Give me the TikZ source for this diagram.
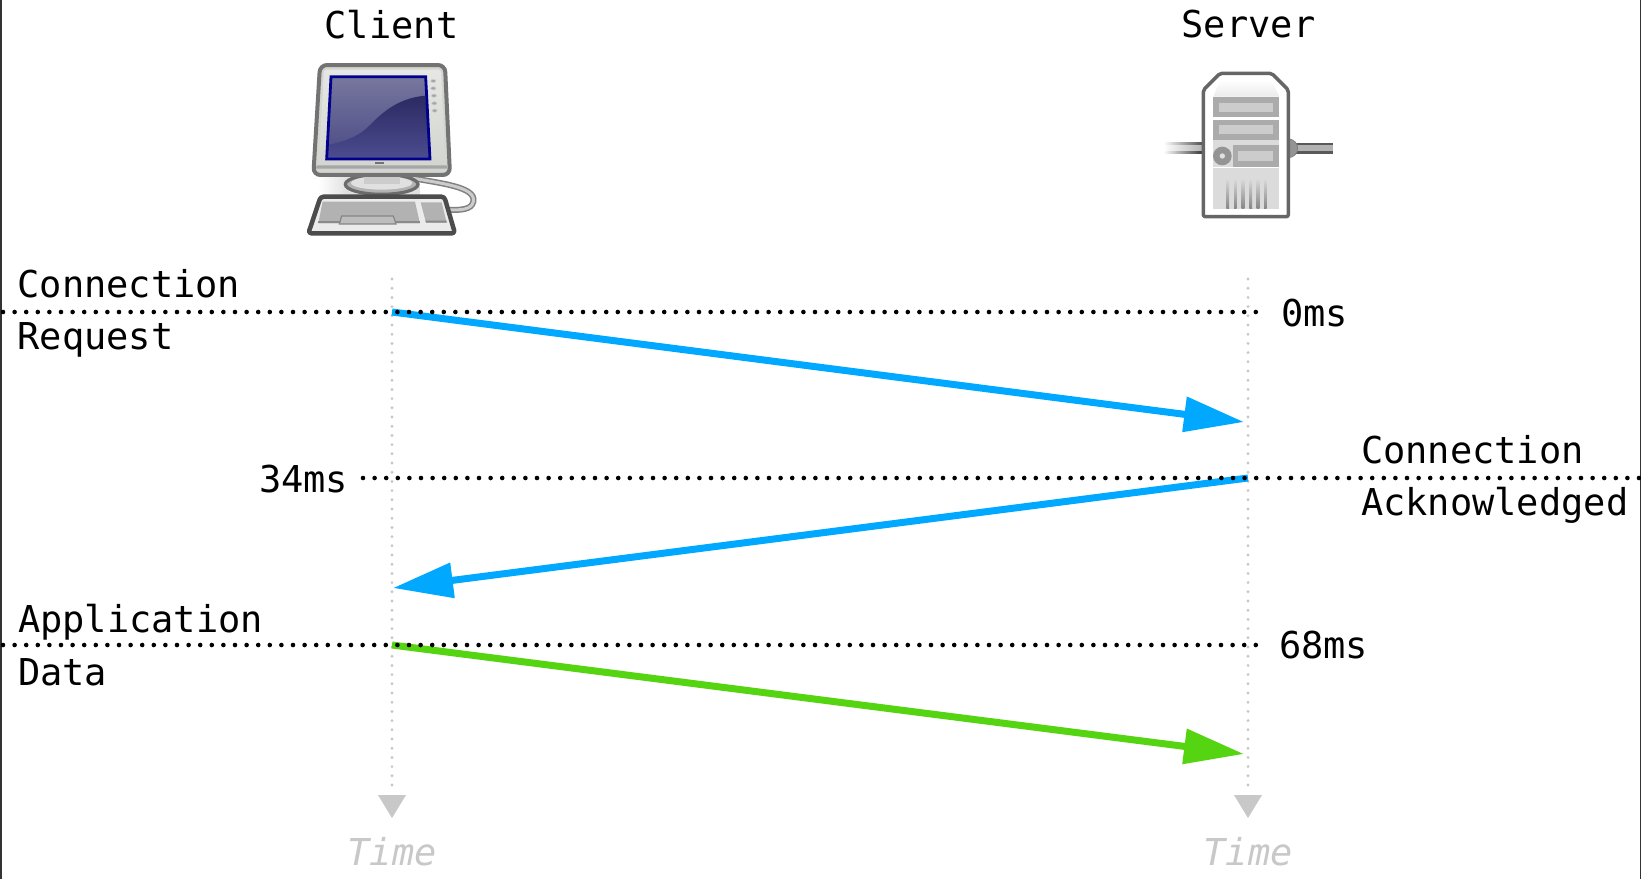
\documentclass[tikz,border=0pt]{standalone}
\usepackage{fontspec}
\setmonofont{DejaVu Sans Mono}
\usetikzlibrary{arrows.meta}
\definecolor{flowblue}{HTML}{00A8FF}
\definecolor{flowgreen}{HTML}{55D411}
\definecolor{timegrey}{HTML}{C8C8C8}
\definecolor{edgegrey}{HTML}{333333}
\definecolor{glassA}{HTML}{77779E}
\definecolor{glassB}{HTML}{4A4A86}
\definecolor{glassC}{HTML}{2C2A62}
\definecolor{glassD}{HTML}{4C4C90}
\definecolor{bezel}{HTML}{D3D5D0}
\definecolor{bezelB}{HTML}{E6E7E4}
\tikzset{
  x=1pt,y=-1pt,
  lbl/.style={inner sep=0pt,outer sep=0pt,font=\fontsize{37}{37}\selectfont\ttfamily,text=black,anchor=base west},
  head/.style={lbl,anchor=base},
  timelbl/.style={lbl,anchor=base,text=timegrey,font=\fontsize{37}{37}\selectfont\ttfamily\itshape},
  timeline/.style={timegrey,line width=3.2pt,line cap=round,dash pattern=on 0pt off 9.2pt},
  mark line/.style={black,line width=4.6pt,line cap=round,dash pattern=on 0pt off 11.6pt},
  msg/.style={line width=7pt},
  msgtip/.style={-{Triangle[length=60pt,width=34pt]}},
  timetip/.style={fill=timegrey,draw=none},
}
\begin{document}
\begin{tikzpicture}
\useasboundingbox (0,0) rectangle (1641,879);
\fill[white] (0,0) rectangle (1641,879);
\fill[edgegrey] (0,0) rectangle (2,879);
\fill[edgegrey] (1640,0) rectangle (1641,879);

% coordinates
\coordinate (c0) at (392,279);
\coordinate (c1) at (392,792);
\coordinate (s0) at (1248,279);
\coordinate (s1) at (1248,792);
\coordinate (a1s) at (392,312);
\coordinate (a1e) at (1244,422);
\coordinate (a2s) at (1248,478);
\coordinate (a2e) at (393,588);
\coordinate (a3s) at (392,645);
\coordinate (a3e) at (1244,754);
\coordinate (d1a) at (3,312);
\coordinate (d1b) at (1265,312);
\coordinate (d2a) at (363,478);
\coordinate (d2b) at (1640,478);
\coordinate (d3a) at (3,645);
\coordinate (d3b) at (1265,645);

% time lines
\draw[timeline] (c0) -- (c1);
\draw[timeline] (s0) -- (s1);
\fill[timetip] (378,795) -- (406,795) -- (392,818) -- cycle;
\fill[timetip] (1234,795) -- (1262,795) -- (1248,818) -- cycle;

% messages
\draw[msg,msgtip,flowblue] (a1s) -- (a1e);
\draw[msg,msgtip,flowblue] (a2s) -- (a2e);
\draw[msg,msgtip,flowgreen] (a3s) -- (a3e);

% dotted marks
\draw[mark line] (d1a) -- (d1b);
\draw[mark line] (d2a) -- (d2b);
\draw[mark line] (d3a) -- (d3b);

% labels
\node[head] (client) at (391.5,38) {Client};
\node[head] (server) at (1248.5,37) {Server};
\node[lbl] (l1) at (17.5,297) {Connection};
\node[lbl] (l2) at (17.5,349) {Request};
\node[lbl] (l3) at (1361,463) {Connection};
\node[lbl] (l4) at (1361,515) {Acknowledged};
\node[lbl] (l5) at (18,632) {Application};
\node[lbl] (l6) at (18,685) {Data};
\node[lbl] (t0) at (1281,326) {0ms};
\node[lbl] (t1) at (259,492) {34ms};
\node[lbl] (t2) at (1279,658) {68ms};
\node[timelbl] (tc) at (392,865) {Time};
\node[timelbl] (ts) at (1248,865) {Time};

% client computer
\begin{scope}[shift={(300,55)},x=0.3333pt,y=-0.3333pt]
  % shadow
  \shade[left color=white,right color=black!12] (55,365) -- (140,365) -- (140,420) -- (55,420) -- cycle;
  \fill[black!12] (140,365) rectangle (360,420);
  % cable
  \draw[line width=6pt,color=black!50,line cap=round] (330,368) .. controls (420,385) and (530,395) .. (520,440) .. controls (515,465) and (480,465) .. (448,465);
  \draw[line width=3pt,color=black!20,line cap=round] (330,368) .. controls (420,385) and (530,395) .. (520,440) .. controls (515,465) and (480,465) .. (448,465);
  % stand
  \filldraw[fill=black!30,draw=black!58,line width=3.2pt] (245,388) ellipse [x radius=109,y radius=30];
  \fill[black!12] (245,384) ellipse [x radius=92,y radius=20];
  \fill[black!20] (192,360) rectangle (300,388);
  % monitor
  \filldraw[fill=bezel,draw=black!55,line width=4pt,rounded corners=7pt]
     (60,30) -- (435,30) -- (450,360) -- (40,360) -- cycle;
  \shade[top color=bezelB,bottom color=bezel,rounded corners=3pt] (72,44) -- (423,44) -- (436,325) -- (56,325) -- cycle;
  \fill[black!35] (50,331) -- (440,331) -- (442,341) -- (48,341) -- cycle;
  \fill[black!55] (226,322) rectangle (252,327);
  % screen
  \shade[top color=glassA,bottom color=glassB]
     (93,65) -- (377,65) -- (390,312) -- (80,312) -- cycle;
  \shade[top color=glassC,bottom color=glassD]
     (376,122) .. controls (290,130) and (245,175) .. (205,215) .. controls (170,250) and (120,262) .. (84,270) -- (80,312) -- (390,312) -- cycle;
  \draw[draw=blue!55!black,line width=2.8pt,line join=miter]
     (93,65) -- (377,65) -- (390,312) -- (80,312) -- cycle;
  % buttons
  \foreach \bx/\by in {400/78,400/100,402/122,403/145,404/167}
    \filldraw[fill=black!35,draw=black!18,line width=0.6pt] (\bx,\by) ellipse [x radius=8,y radius=5];
  % keyboard
  \filldraw[fill=black!8,draw=black!70,line width=4.5pt,line join=round,rounded corners=3pt]
     (62,425) -- (433,425) -- (465,535) -- (25,535) -- cycle;
  \fill[black!30] (68,440) -- (345,440) -- (360,505) -- (55,505) -- cycle;
  \fill[black!30] (362,442) -- (425,442) -- (440,503) -- (378,503) -- cycle;
  \fill[black!46] (55,498) -- (360,498) -- (360,505) -- (55,505) -- cycle;
  \fill[black!46] (376,497) -- (440,497) -- (440,503) -- (378,503) -- cycle;
  \filldraw[fill=black!26,draw=black!48,line width=1.2pt] (125,483) -- (280,483) -- (288,507) -- (118,507) -- cycle;
\end{scope}

% server
\begin{scope}[shift={(1160,65)},x=0.3333pt,y=-0.3333pt]
  % cables
  \shade[left color=white,right color=black!30] (10,235) rectangle (130,265);
  \shade[left color=white,right color=black!70] (10,234) rectangle (130,240);
  \shade[left color=white,right color=black!80] (10,260) rectangle (130,266);
  \fill[black!30] (385,235) rectangle (520,265);
  \fill[black!65] (385,233) rectangle (520,240);
  \fill[black!65] (385,259) rectangle (520,267);
  \filldraw[fill=black!42,draw=black!50,line width=0.8pt] (385,278) arc[start angle=90,end angle=-90,radius=28];
  % body
  \filldraw[fill=white,draw=black!60,line width=3.5pt,line join=round,rounded corners=2pt]
     (130,75) -- (180,25) -- (335,25) -- (385,75) -- (385,455) -- (130,455) -- cycle;
  \shade[top color=white,bottom color=black!8] (180,45) -- (335,45) -- (358,95) -- (160,95) -- cycle;
  \fill[black!14] (160,95) rectangle (358,432);
  % drives
  \fill[black!33] (160,95) rectangle (358,157);
  \fill[black!20] (178,113) rectangle (340,142);
  \fill[black!33] (160,165) rectangle (358,225);
  \fill[black!20] (178,180) rectangle (340,208);
  \fill[black!33] (218,240) rectangle (358,305);
  \fill[black!20] (235,258) rectangle (340,288);
  \fill[white] (160,157) rectangle (358,165);
  \fill[white] (160,305) rectangle (358,309);
  % disc
  \fill[black!42] (187,273) circle [radius=28];
  \fill[black!12] (187,273) circle [radius=8];
  % vents
  \foreach \vx in {203,226,249,272,294,316}
    \shade[top color=black!14,bottom color=black!48] (\vx-4,340) rectangle (\vx+4,432);
\end{scope}
\end{tikzpicture}
\end{document}
